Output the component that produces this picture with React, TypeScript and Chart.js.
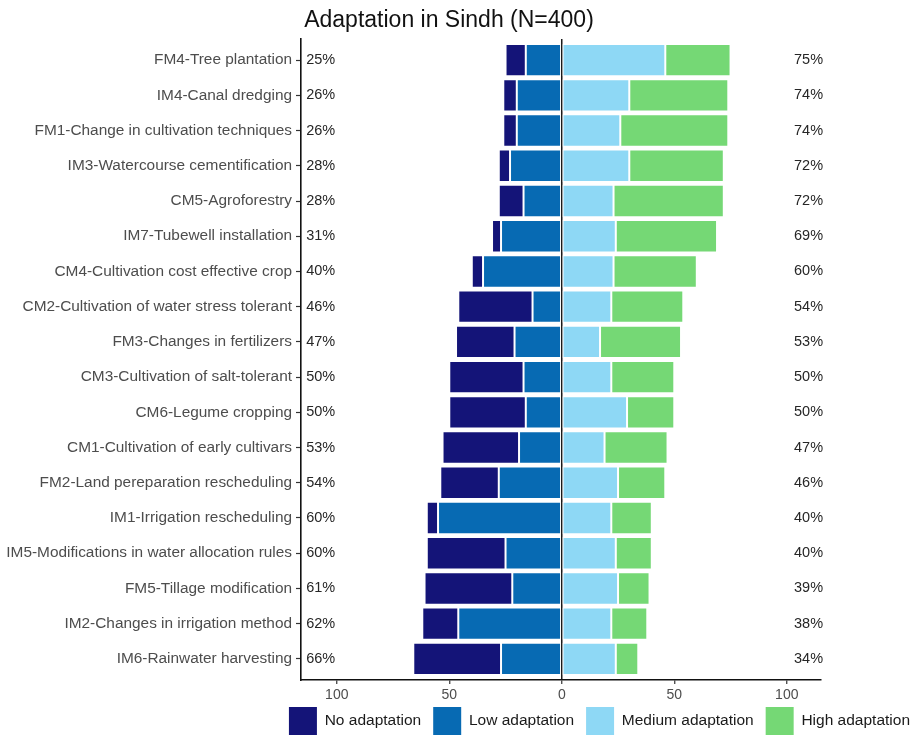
import React, { useEffect, useRef } from "react";
import { Chart, registerables } from "chart.js";

Chart.register(...registerables);

const chartTitle = "Adaptation in Sindh (N=400)";

const categories = [
  "FM4-Tree plantation",
  "IM4-Canal dredging",
  "FM1-Change in cultivation techniques",
  "IM3-Watercourse cementification",
  "CM5-Agroforestry",
  "IM7-Tubewell installation",
  "CM4-Cultivation cost effective crop",
  "CM2-Cultivation of water stress tolerant",
  "FM3-Changes in fertilizers",
  "CM3-Cultivation of salt-tolerant",
  "CM6-Legume cropping",
  "CM1-Cultivation of early cultivars",
  "FM2-Land pereparation rescheduling",
  "IM1-Irrigation rescheduling",
  "IM5-Modifications in water allocation rules",
  "FM5-Tillage modification",
  "IM2-Changes in irrigation method",
  "IM6-Rainwater harvesting",
];

const seriesNames = ["No adaptation", "Low adaptation", "Medium adaptation", "High adaptation"];

const noAdaptation = [9, 6, 6, 5, 11, 4, 5, 33, 26, 33, 34, 34, 26, 5, 35, 39, 16, 39];
const lowAdaptation = [16, 20, 20, 23, 17, 27, 35, 13, 21, 17, 16, 19, 28, 55, 25, 22, 46, 27];
const mediumAdaptation = [46, 30, 26, 30, 23, 24, 23, 22, 17, 22, 29, 19, 25, 22, 24, 25, 22, 24];
const highAdaptation = [29, 44, 48, 42, 49, 45, 37, 32, 36, 28, 21, 28, 21, 18, 16, 14, 16, 10];

const xTickValues = [-100, -50, 0, 50, 100];

const COLORS = {
  no: "#141478",
  low: "#076AB3",
  medium: "#8ED8F5",
  high: "#75D875",
};

const FONT = '"Liberation Sans", Arial, Helvetica, sans-serif';

const LEFT_LABEL_VALUE = -113.6;
const RIGHT_LABEL_VALUE = 103.2;

const pctLabelPlugin = {
  id: "pctLabels",
  afterDatasetsDraw(chart: any) {
    const { ctx } = chart;
    const x = chart.scales.x;
    const y = chart.scales.y;
    ctx.save();
    ctx.font = `14.5px ${FONT}`;
    ctx.fillStyle = "#262626";
    ctx.textBaseline = "middle";
    ctx.textAlign = "left";
    categories.forEach((_, i) => {
      const py = y.getPixelForValue(i + 1);
      const neg = noAdaptation[i] + lowAdaptation[i];
      const pos = mediumAdaptation[i] + highAdaptation[i];
      ctx.fillText(`${neg}%`, x.getPixelForValue(LEFT_LABEL_VALUE), py);
      ctx.fillText(`${pos}%`, x.getPixelForValue(RIGHT_LABEL_VALUE), py);
    });
    ctx.restore();
  },
};

export default function App() {
  const canvasRef = useRef<HTMLCanvasElement | null>(null);

  useEffect(() => {
    if (!canvasRef.current) return;
    const toPoints = (arr: number[], sign: number) =>
      arr.map((v, i) => ({ x: sign * v, y: i + 1 }));

    const common = {
      borderColor: "#ffffff",
      borderWidth: 1,
      borderSkipped: false,
      barPercentage: 0.92,
      categoryPercentage: 1,
      xAxisID: "x",
      yAxisID: "y",
    };

    const legendRank = [1, 0, 2, 3];

    const chart = new Chart(canvasRef.current, {
      type: "bar",
      data: {
        datasets: [
          { ...common, label: seriesNames[1], data: toPoints(lowAdaptation, -1), backgroundColor: COLORS.low },
          { ...common, label: seriesNames[0], data: toPoints(noAdaptation, -1), backgroundColor: COLORS.no },
          { ...common, label: seriesNames[2], data: toPoints(mediumAdaptation, 1), backgroundColor: COLORS.medium },
          { ...common, label: seriesNames[3], data: toPoints(highAdaptation, 1), backgroundColor: COLORS.high },
        ] as any,
      },
      options: {
        indexAxis: "y",
        responsive: false,
        animation: false,
        events: [],
        layout: { padding: { left: -24, right: 0, top: 0, bottom: -9 } },
        plugins: {
          title: {
            display: true,
            text: chartTitle,
            color: "#111111",
            font: { family: FONT, size: 23, weight: "normal" },
            padding: { top: 7, bottom: 4.4 },
          },
          legend: {
            display: true,
            position: "bottom",
            align: "end",
            labels: {
              boxWidth: 28,
              boxHeight: 28,
              padding: 12,
              color: "#1a1a1a",
              font: { family: FONT, size: 15.5 },
              sort: (a: any, b: any) => legendRank[a.datasetIndex] - legendRank[b.datasetIndex],
              generateLabels: (c: any) =>
                (Chart.defaults.plugins.legend.labels.generateLabels as any)(c).map((l: any) => ({
                  ...l,
                  lineWidth: 0,
                  strokeStyle: "rgba(0,0,0,0)",
                })),
            },
          },
          tooltip: { enabled: false },
        },
        scales: {
          x: {
            type: "linear",
            position: "bottom",
            stacked: true,
            min: -115.9,
            max: 115.2,
            afterBuildTicks: (scale: any) => {
              scale.ticks = xTickValues.map((v) => ({ value: v }));
            },
            afterFit: (scale: any) => {
              scale.height = 15;
              // let the tick labels extend below the (shortened) axis box
              scale._computeLabelArea = () => undefined;
            },
            ticks: {
              color: "#4D4D4D",
              font: { family: FONT, size: 14 },
              padding: 3,
              maxRotation: 0,
              autoSkip: false,
              callback: (v: any) => String(Math.abs(Number(v))),
            },
            grid: {
              drawOnChartArea: true,
              drawTicks: true,
              tickLength: 4,
              tickColor: "#333333",
              tickWidth: 1.2,
              color: (ctx: any) => (ctx.tick && ctx.tick.value === 0 ? "#1a1a1a" : "rgba(0,0,0,0)"),
              lineWidth: 1.5,
            },
            border: { display: true, color: "#111111", width: 1.6 },
          },
          y: {
            type: "linear",
            position: "left",
            stacked: true,
            reverse: true,
            offset: false,
            min: 0.4,
            max: 18.6,
            afterBuildTicks: (scale: any) => {
              scale.ticks = categories.map((_, i) => ({ value: i + 1 }));
            },
            afterFit: (scale: any) => {
              scale.width = 325;
            },
            ticks: {
              color: "#4D4D4D",
              font: { family: FONT, size: 15.4 },
              padding: 4,
              autoSkip: false,
              callback: (v: any) => categories[Number(v) - 1] ?? "",
            },
            grid: {
              offset: false,
              drawOnChartArea: false,
              drawTicks: true,
              tickLength: 5,
              tickColor: "#333333",
              tickWidth: 1.2,
            },
            border: { display: true, color: "#111111", width: 1.6 },
          },
          yR: {
            axis: "y",
            type: "linear",
            position: "right",
            display: true,
            grid: { display: false },
            border: { display: false },
            ticks: { display: false },
            afterFit: (scale: any) => {
              scale.width = 101;
            },
          },
        },
      } as any,
      plugins: [pctLabelPlugin],
    });
    return () => chart.destroy();
  }, []);

  return (
    <div style={{ position: "fixed", left: 0, top: 0, width: 922, height: 736, background: "#ffffff" }}>
      <canvas ref={canvasRef} width={922} height={736} style={{ display: "block" }} />
    </div>
  );
}
